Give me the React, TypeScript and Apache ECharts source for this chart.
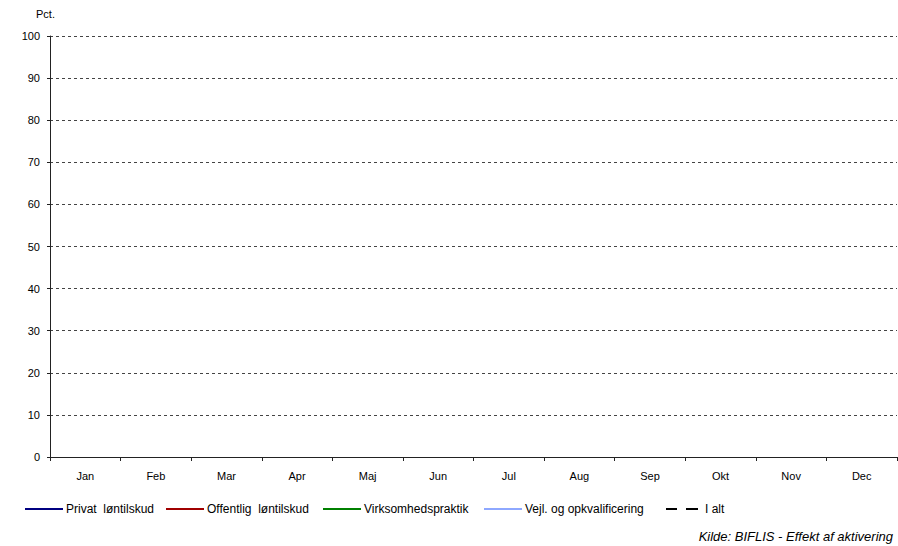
import React, { useEffect, useRef } from "react";
import * as echarts from "echarts";

const months = ["Jan", "Feb", "Mar", "Apr", "Maj", "Jun", "Jul", "Aug", "Sep", "Okt", "Nov", "Dec"];
const seriesNames = ["Privat  løntilskud", "Offentlig  løntilskud", "Virksomhedspraktik", "Vejl. og opkvalificering", "I alt"];
const seriesColors = ["#000080", "#a00000", "#008000", "#8ea8ff", "#000000"];
// The reference chart shows no data points for any series
const privatValues: (number | null)[] = [];
const offentligValues: (number | null)[] = [];
const virksomhedValues: (number | null)[] = [];
const vejlValues: (number | null)[] = [];
const iAltValues: (number | null)[] = [];
const yTicks = [0, 10, 20, 30, 40, 50, 60, 70, 80, 90, 100];

const legendLeft = [20, 161, 318, 479, 661];
const FONT = "'Liberation Sans', Arial, sans-serif";
const SOLID_ICON = "path://M0,0H38V2H0Z";
const DASH_ICON = "path://M0,0H11V2H0Z M20,0H32V2H20Z";

export default function App() {
  const ref = useRef<HTMLDivElement>(null);
  useEffect(() => {
    if (!ref.current) return;
    const chart = echarts.init(ref.current, undefined, { renderer: "svg" });
    const values = [privatValues, offentligValues, virksomhedValues, vejlValues, iAltValues];
    chart.setOption({
      animation: false,
      backgroundColor: "#ffffff",
      textStyle: { fontFamily: FONT },
      grid: { left: 50, right: 1, top: 36, bottom: 89, containLabel: false },
      legend: seriesNames.map((name, i) => ({
        left: legendLeft[i],
        top: 498,
        itemWidth: i === 4 ? 32 : 38,
        itemHeight: 2,
        itemGap: 0,
        selectedMode: false,
        textStyle: { fontSize: 12, color: "#000", fontFamily: FONT, padding: [0, 0, 0, i === 4 ? 2 : -2] },
        data: [{ name, icon: i === 4 ? DASH_ICON : SOLID_ICON, itemStyle: { color: seriesColors[i] } }],
      })),
      graphic: [
        {
          type: "text",
          left: 36,
          top: 8,
          style: { text: "Pct.", fontSize: 11, fill: "#000", fontFamily: FONT },
        },
        {
          type: "text",
          right: 5,
          top: 530,
          style: { text: "Kilde: BIFLIS - Effekt af aktivering", fontSize: 13, fontStyle: "italic", fill: "#000", fontFamily: FONT },
        },
      ],
      xAxis: {
        type: "category",
        data: months,
        boundaryGap: true,
        axisLine: { lineStyle: { color: "#222", width: 1 } },
        axisTick: { show: true, length: 4, inside: false, lineStyle: { color: "#222" } },
        axisLabel: { interval: 0, fontSize: 11, color: "#000", margin: 13, fontFamily: FONT },
        splitLine: { show: false },
      },
      yAxis: {
        type: "value",
        min: yTicks[0],
        max: yTicks[yTicks.length - 1],
        interval: 10,
        axisLine: { show: true, lineStyle: { color: "#222", width: 1 } },
        axisTick: { show: true, length: 3, lineStyle: { color: "#222" } },
        axisLabel: { fontSize: 11, color: "#000", margin: 10, fontFamily: FONT },
        splitLine: { show: true, lineStyle: { color: "#444", type: [3, 3], width: 1 } },
      },
      series: seriesNames.map((name, i) => ({
        name,
        type: "line",
        data: values[i],
        symbol: "none",
        color: seriesColors[i],
        lineStyle: {
          color: seriesColors[i],
          width: 2,
          type: i === 4 ? [10, 6] : "solid",
        },
      })),
    });
    return () => chart.dispose();
  }, []);
  return <div ref={ref} style={{ width: 898, height: 546, position: "absolute", left: 0, top: 0 }} />;
}
